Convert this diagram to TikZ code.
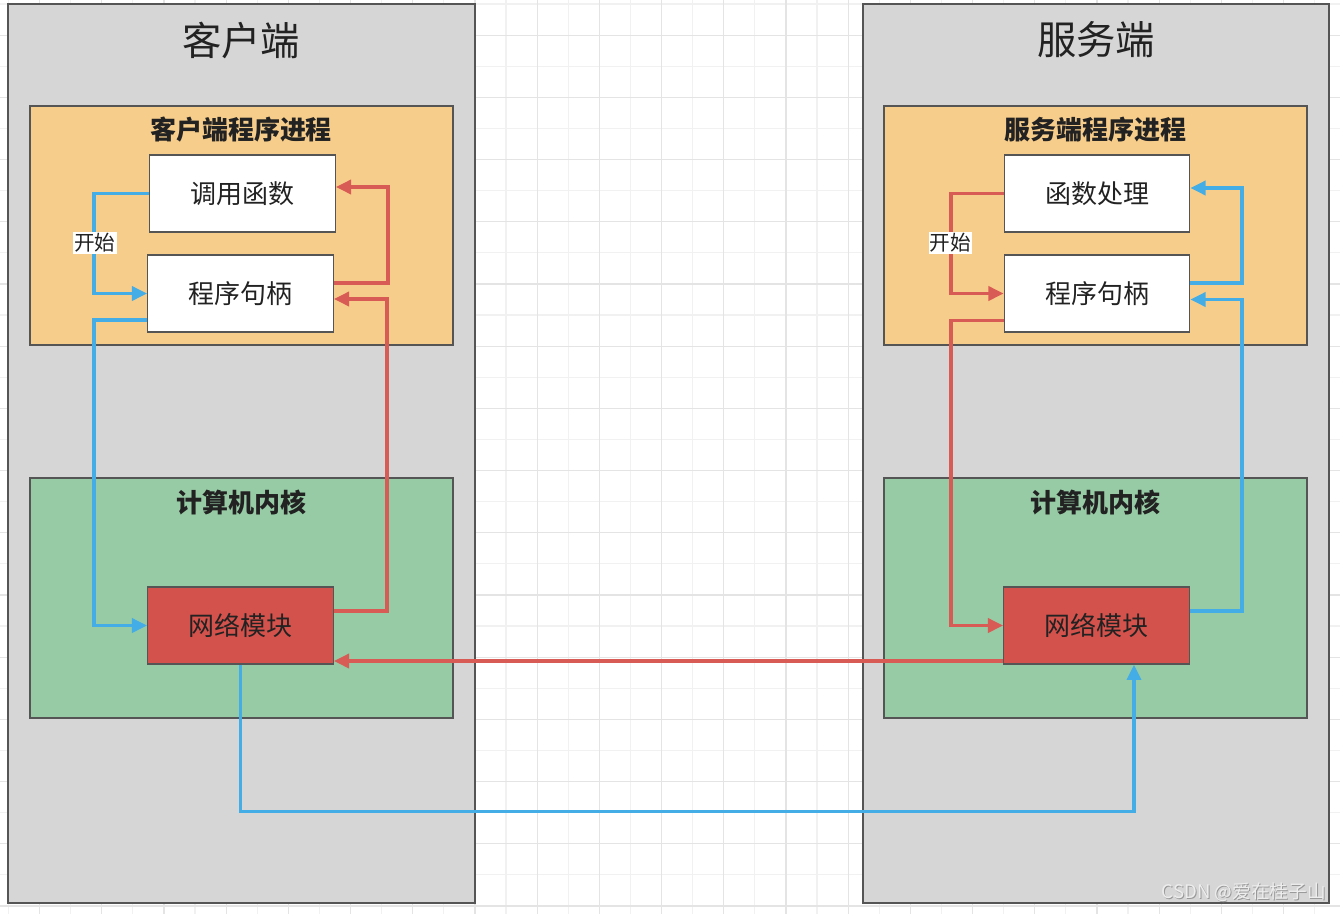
\documentclass[tikz,border=0pt]{standalone}
\usepackage{fontspec}
\newfontfamily\cjk{Noto Sans CJK SC}
\usetikzlibrary{calc,arrows.meta}
\definecolor{gridminor}{HTML}{F1F1F1}
\definecolor{gridmajor}{HTML}{E4E4E4}
\definecolor{panelgray}{HTML}{D6D6D6}
\definecolor{panelline}{HTML}{555555}
\definecolor{procfill}{HTML}{F7CD8B}
\definecolor{kernfill}{HTML}{97CBA5}
\definecolor{netfill}{HTML}{D4524C}
\definecolor{lineblue}{HTML}{45ADE6}
\definecolor{linered}{HTML}{D95B55}
\definecolor{txt}{HTML}{222222}
\tikzset{
  panel/.style={draw=panelline, line width=1.1pt, fill=panelgray, minimum width=#1*0.75pt, minimum height=674.25pt, inner sep=0pt},
  procbox/.style={draw=panelline, line width=0.9pt, fill=procfill, minimum width=317.25pt, minimum height=179.25pt, inner sep=0pt},
  kernbox/.style={draw=panelline, line width=0.9pt, fill=kernfill, minimum width=317.25pt, minimum height=180pt, inner sep=0pt},
  whitebox/.style={draw=panelline, line width=0.9pt, fill=white, minimum width=139pt, minimum height=57.75pt, inner sep=0pt, font=\cjk\fontsize{19.5}{22}\selectfont, text=txt},
  netbox/.style={draw=panelline, line width=0.9pt, fill=netfill, minimum width=139pt, minimum height=57.75pt, inner sep=0pt, font=\cjk\fontsize{19.5}{22}\selectfont, text=txt},
  bigtitle/.style={font=\cjk\fontsize{29.5}{34}\selectfont, text=txt, inner sep=0pt},
  boxtitle/.style={font=\cjk\bfseries\fontsize{19.5}{23}\selectfont, text=txt, inner sep=0pt},
  startlbl/.style={fill=white, font=\cjk\fontsize{15.5}{18}\selectfont, text=txt, inner sep=0.8pt},
  bluearr/.style={draw=lineblue, line width=2.7pt, -{Triangle[length=11.5pt,width=10.5pt]}},
  redarr/.style={draw=linered, line width=2.7pt, -{Triangle[length=11.5pt,width=10.5pt]}},
}
\begin{document}
\begin{tikzpicture}[x=0.75pt,y=-0.75pt]
\useasboundingbox (0,0) rectangle (1340,914);
\fill[white] (0,0) rectangle (1340,914);
% grid
\foreach \i in {0,...,43} {
  \pgfmathsetmacro{\gx}{8.4+31.1*\i}
  \draw[gridminor, line width=0.8pt] (\gx,0) -- (\gx,914);
}
\foreach \i in {0,...,29} {
  \pgfmathsetmacro{\gy}{4+31.1*\i}
  \draw[gridminor, line width=0.8pt] (0,\gy) -- (1340,\gy);
}
\foreach \i in {0,...,21} {
  \pgfmathsetmacro{\gx}{39.5+62.2*\i}
  \draw[gridmajor, line width=0.9pt] (\gx,0) -- (\gx,914);
}
\foreach \i in {0,...,14} {
  \pgfmathsetmacro{\gy}{35.1+62.2*\i}
  \draw[gridmajor, line width=0.9pt] (0,\gy) -- (1340,\gy);
}
% panels
\node[panel=467] (panelL) at (241.5,453.5) {};
\node[panel=466] (panelR) at (1096,453.5) {};
\node[bigtitle] (titleL) at (241,40) {客户端};
\node[bigtitle] (titleR) at (1096,40) {服务端};
% process boxes
\node[procbox] (procL) at (241.5,225.5) {};
\node[procbox] (procR) at (1095.5,225.5) {};
\node[boxtitle] (procLt) at (241,130) {客户端程序进程};
\node[boxtitle] (procRt) at (1095,130) {服务端程序进程};
% kernel boxes
\node[kernbox] (kernL) at (241.5,598) {};
\node[kernbox] (kernR) at (1095.5,598) {};
\node[boxtitle] (kernLt) at (241,503) {计算机内核};
\node[boxtitle] (kernRt) at (1095,503) {计算机内核};
% inner boxes
\node[whitebox] (call) at (242.5,193.5) {调用函数};
\node[whitebox] (handleL) at (240.5,293.5) {程序句柄};
\node[netbox] (netL) at (240.5,625.5) {网络模块};
\node[whitebox] (func) at (1097,193.5) {函数处理};
\node[whitebox] (handleR) at (1097,293.5) {程序句柄};
\node[netbox] (netR) at (1096.5,625.5) {网络模块};
% left connectors
\draw[bluearr] (call.west) -- ++(-55,0) |- (handleL.west);
\draw[redarr] ($(handleL.east)+(0,-10.5)$) -- ++(54,0) |- ($(call.east)+(0,-6.5)$);
\draw[redarr] ($(netL.east)+(0,-14.5)$) -- ++(53,0) |- ($(handleL.east)+(0,5.5)$);
\draw[bluearr] ($(handleL.west)+(0,26.5)$) -- ++(-53,0) |- (netL.west);
% cross connectors
\draw[redarr] ($(netR.west)+(0,35.5)$) -- ($(netL.east)+(0,35.5)$);
\draw[bluearr] (netL.south) -- ++(0,147) -| ($(netR.south)+(37.5,0)$);
% right connectors
\draw[redarr] (func.west) -- ++(-53,0) |- (handleR.west);
\draw[bluearr] ($(handleR.east)+(0,-10.5)$) -- ++(52,0) |- ($(func.east)+(0,-5.5)$);
\draw[bluearr] ($(netR.east)+(0,-14.5)$) -- ++(52,0) |- ($(handleR.east)+(0,6)$);
\draw[redarr] ($(handleR.west)+(0,27)$) -- ++(-53,0) |- (netR.west);
% labels
\node[startlbl] (startL) at (95,243) {开始};
\node[startlbl] (startR) at (950.5,243) {开始};
% watermark
\node[font=\cjk\fontsize{14}{16}\selectfont, text=gray!80, anchor=south east, inner sep=0pt] (wmS) at (1327,903) {CSDN @爱在桂子山};
\node[font=\cjk\fontsize{14}{16}\selectfont, text=white!93!black, anchor=south east, inner sep=0pt] (wm) at (1326,902) {CSDN @爱在桂子山};
\end{tikzpicture}
\end{document}
